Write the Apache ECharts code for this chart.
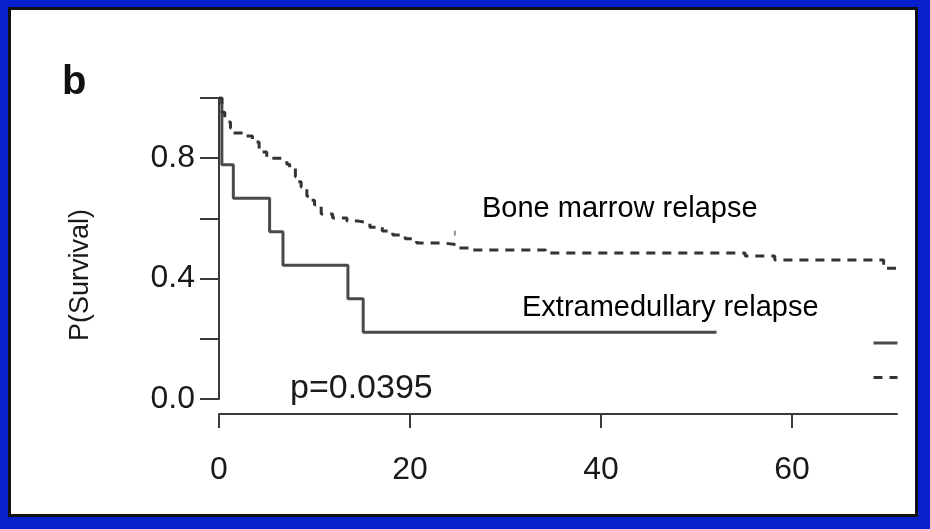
<!DOCTYPE html>
<html>
<head>
<meta charset="utf-8">
<title>P(Survival) b</title>
<script src="https://cdn.jsdelivr.net/npm/echarts@6.0.0/dist/echarts.min.js"></script>
<style>
  html, body { margin: 0; padding: 0; }
  body { width: 930px; height: 529px; background: #0520cc; position: relative; overflow: hidden; }
  #frame { position: absolute; left: 8px; top: 7px; width: 910px; height: 510px; box-sizing: border-box; border: 3px solid #111; background: #fff; }
  #main { position: absolute; left: 0; top: 0; width: 930px; height: 529px; }
</style>
</head>
<body>
<div id="frame"></div>
<div id="main"></div>
<script>
// survival curves (x = time, y = P(Survival))
const emTime = [0, 0.3, 1.5, 5.3, 6.7, 13.5, 15.1, 52.1];
const emSurv = [1, 0.778, 0.667, 0.556, 0.444, 0.333, 0.222, 0.222];

const bmTime = [0, 0.3, 0.6, 0.8, 1.2, 1.5, 2.5, 3.5, 4.2, 5.0, 6.6, 7.1, 7.4, 8.0, 8.3, 8.6, 9.2, 9.6, 10.0, 10.7, 11.9, 13.4, 14.6, 15.8, 17.1, 18.2, 19.5, 20.7, 23.6, 25.0, 26.3, 34.2, 55.1, 58.2, 69.6, 71];
const bmSurv = [1, 0.953, 0.935, 0.920, 0.900, 0.884, 0.874, 0.854, 0.821, 0.800, 0.794, 0.780, 0.767, 0.738, 0.722, 0.704, 0.674, 0.660, 0.645, 0.615, 0.601, 0.591, 0.585, 0.571, 0.558, 0.545, 0.532, 0.518, 0.512, 0.502, 0.495, 0.485, 0.475, 0.462, 0.434, 0.434];

// censor tick on the bone marrow curve
const censorTime = [24.7];
const censorSurv = [0.551];

const xTicks = [0, 20, 40, 60];
const yTicks = [0, 0.2, 0.4, 0.6, 0.8, 1.0];
const yTickLabels = [0, 0.4, 0.8];

const FONT = "'Liberation Sans', Arial, Helvetica, sans-serif";
const INK = '#1a1a1a';
const LINE = '#4a4a4a';

let chart = echarts.init(document.getElementById('main'));

chart.setOption({
    animation: false,
    backgroundColor: 'transparent',
    grid: {left: 219, right: 33, top: 98, bottom: 130, containLabel: false, outerBoundsMode: 'none'},
    legend: {
        data: ['Extramedullary relapse', 'Bone marrow relapse'],
        orient: 'vertical',
        left: 867,
        top: 331,
        itemWidth: 24,
        itemHeight: 14,
        itemGap: 22,
        selectedMode: false,
        formatter: () => '',
        textStyle: {fontSize: 1},
        itemStyle: {opacity: 0},
        lineStyle: {width: 3}
    },
    xAxis: {
        type: 'value',
        min: 0,
        max: 71,
        interval: 20,
        offset: 15,
        splitLine: {show: false},
        axisLine: {onZero: false, lineStyle: {color: '#3a3a3a', width: 2}},
        axisTick: {customValues: xTicks, length: 14, lineStyle: {color: '#3a3a3a', width: 2}},
        axisLabel: {
            customValues: xTicks,
            margin: 40,
            color: INK,
            fontFamily: FONT,
            fontSize: 32
        }
    },
    yAxis: {
        type: 'value',
        min: 0,
        max: 1,
        interval: 0.2,
        splitLine: {show: false},
        axisLine: {show: true, onZero: false, lineStyle: {color: '#3a3a3a', width: 2}},
        axisTick: {show: true, customValues: yTicks, length: 19, lineStyle: {color: '#3a3a3a', width: 2}},
        axisLabel: {
            customValues: yTickLabels,
            margin: 24,
            color: INK,
            fontFamily: FONT,
            fontSize: 32,
            formatter: v => v.toFixed(1)
        }
    },
    series: [
        {
            name: 'Extramedullary relapse',
            type: 'line',
            step: 'end',
            symbol: 'none',
            data: emTime.map((t, i) => [t, emSurv[i]]),
            lineStyle: {color: LINE, width: 3},
            itemStyle: {color: LINE}
        },
        {
            name: 'Bone marrow relapse',
            type: 'line',
            step: 'end',
            symbol: 'none',
            data: bmTime.map((t, i) => [t, bmSurv[i]]),
            lineStyle: {color: '#333', width: 3, type: [9, 7]},
            itemStyle: {color: '#333'}
        },
        {
            name: 'censor',
            type: 'scatter',
            symbol: 'rect',
            symbolSize: [2, 5],
            data: censorTime.map((t, i) => [t, censorSurv[i]]),
            itemStyle: {color: '#777'}
        }
    ],
    graphic: [
        {type: 'text', x: 62, y: 83, style: {text: 'b', font: 'bold 40px ' + FONT, fill: '#111', verticalAlign: 'middle'}},
        {type: 'text', x: 81, y: 275, rotation: Math.PI / 2, style: {text: 'P(Survival)', font: '27px ' + FONT, fill: INK, align: 'center', verticalAlign: 'middle'}},
        {type: 'text', x: 482, y: 209, style: {text: 'Bone marrow relapse', font: '29px ' + FONT, fill: '#000', verticalAlign: 'middle'}},
        {type: 'text', x: 522, y: 308, style: {text: 'Extramedullary relapse', font: '29px ' + FONT, fill: '#000', verticalAlign: 'middle'}},
        {type: 'text', x: 290, y: 389, style: {text: 'p=0.0395', font: '34px ' + FONT, fill: INK, verticalAlign: 'middle'}}
    ]
});
</script>
</body>
</html>
